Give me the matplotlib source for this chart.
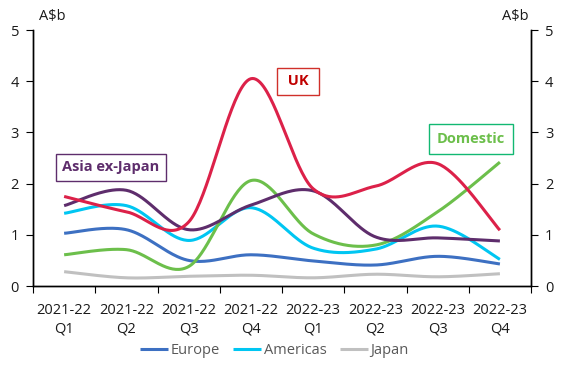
import numpy as np
import matplotlib.pyplot as plt

plt.rcParams.update({
    "font.family": ["Open Sans", "DejaVu Sans"],
    "font.size": 10.5,
    "axes.linewidth": 1.0,
})

# ------------------------------------------------------------
# data (A$b)
# ------------------------------------------------------------
years = ["2021-22"] * 4 + ["2022-23"] * 4
quarters = ["Q1", "Q2", "Q3", "Q4"] * 2
labels = [f"{y}\n{q}" for y, q in zip(years, quarters)]

europe   = [1.03, 1.10, 0.50, 0.61, 0.49, 0.41, 0.58, 0.43]
americas = [1.42, 1.57, 0.89, 1.53, 0.74, 0.72, 1.17, 0.52]
japan    = [0.28, 0.16, 0.19, 0.21, 0.16, 0.23, 0.18, 0.24]
asia     = [1.57, 1.87, 1.10, 1.58, 1.86, 0.96, 0.94, 0.88]
uk       = [1.75, 1.45, 1.25, 4.05, 1.90, 1.95, 2.39, 1.09]
domestic = [0.61, 0.71, 0.38, 2.06, 1.02, 0.80, 1.45, 2.42]

C_EUROPE = "#3d70c2"
C_AMER = "#00c6f2"
C_JAPAN = "#c0c0c0"
C_ASIA = "#5e2d6c"
C_UK = "#dc2149"
C_DOM = "#6cbf4b"


def smooth(vals, n=40):
    # Catmull-Rom through the points, like a spreadsheet "smoothed line"
    p = np.column_stack([np.arange(len(vals)), vals]).astype(float)
    pts = np.vstack([p[0], p, p[-1]])
    out = []
    t = np.linspace(0, 1, n)[:, None]
    for i in range(1, len(pts) - 2):
        p0, p1, p2, p3 = pts[i - 1], pts[i], pts[i + 1], pts[i + 2]
        m1 = (p2 - p0) / 2
        m2 = (p3 - p1) / 2
        h00 = 2 * t**3 - 3 * t**2 + 1
        h10 = t**3 - 2 * t**2 + t
        h01 = -2 * t**3 + 3 * t**2
        h11 = t**3 - t**2
        out.append(h00 * p1 + h10 * m1 + h01 * p2 + h11 * m2)
    seg = np.vstack(out)
    return seg[:, 0], seg[:, 1]


fig = plt.figure(figsize=(5.71, 3.67), dpi=100)
ax = fig.add_axes([0.0578, 0.2207, 0.8722, 0.6973])

series = [
    (japan, C_JAPAN, "Japan"),
    (europe, C_EUROPE, "Europe"),
    (americas, C_AMER, "Americas"),
    (domestic, C_DOM, None),
    (asia, C_ASIA, None),
    (uk, C_UK, None),
]
handles = {}
for vals, col, name in series:
    xs, ys = smooth(vals)
    ln, = ax.plot(xs, ys, color=col, lw=2.2, solid_capstyle="butt")
    if name:
        handles[name] = ln

ax.set_xlim(-0.5, 7.5)
ax.set_ylim(0, 5)
ax.set_yticks(range(6))
ax.set_xticks(np.arange(-0.5, 8, 1))
ax.set_xticklabels([])
ax.set_xticks(range(8), minor=True)
ax.set_xticklabels(labels, minor=True, color="#1a1a1a", linespacing=1.35)
ax.tick_params(axis="x", which="major", length=5, direction="out", color="black")
ax.tick_params(axis="x", which="minor", length=0, pad=12)
ax.tick_params(axis="y", length=5, direction="out", labelcolor="#1a1a1a", pad=5)
ax.spines["top"].set_visible(False)

ax2 = ax.twinx()
ax2.set_ylim(0, 5)
ax2.set_yticks(range(6))
ax2.tick_params(axis="y", length=5, direction="out", labelcolor="#1a1a1a", pad=5)
ax2.spines["top"].set_visible(False)

fig.text(0.069, 0.935, "A$b", ha="left", va="bottom", color="#1a1a1a")
fig.text(0.925, 0.935, "A$b", ha="right", va="bottom", color="#1a1a1a")

# series name boxes
ax.text(-0.03, 2.32, "Asia ex-Japan", color=C_ASIA, fontweight="bold",
        ha="left", va="center", fontsize=10.5,
        bbox=dict(boxstyle="square,pad=0.45", fc="white", ec=C_ASIA, lw=1.0))
ax.text(3.53, 4.0, " UK ", color="#c00000", fontweight="bold",
        ha="left", va="center", fontsize=10.5,
        bbox=dict(boxstyle="square,pad=0.45", fc="white", ec="#d0302a", lw=1.0))
ax.text(5.99, 2.875, "Domestic", color=C_DOM, fontweight="bold",
        ha="left", va="center", fontsize=10.5,
        bbox=dict(boxstyle="square,pad=0.55", fc="white", ec="#12b872", lw=1.0))

leg = fig.legend([handles["Europe"], handles["Americas"], handles["Japan"]],
                 ["Europe", "Americas", "Japan"],
                 loc="center", bbox_to_anchor=(0.481, 0.045), ncol=3,
                 frameon=False, handlelength=1.9, handletextpad=0.2,
                 columnspacing=0.9)
for t in leg.get_texts():
    t.set_color("#595959")

fig.savefig("out.png", dpi=100)
